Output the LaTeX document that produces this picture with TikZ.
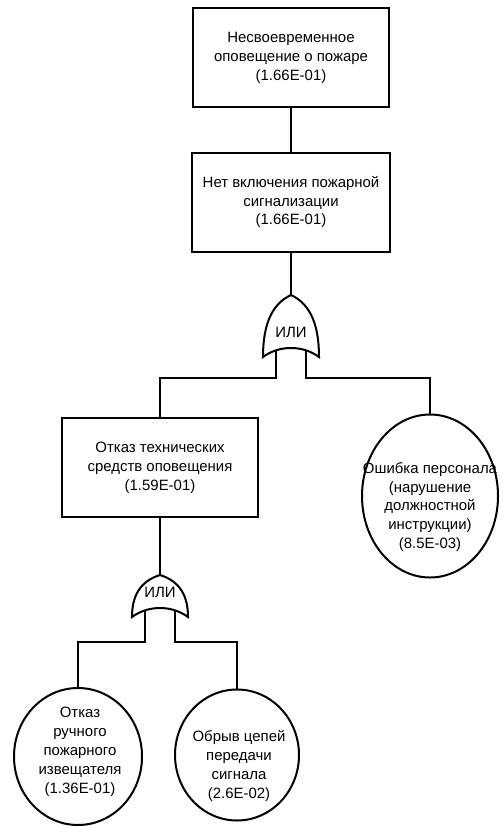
\documentclass[tikz,border=0pt]{standalone}
\usepackage{fontspec}
\setmainfont{Liberation Sans}
\usetikzlibrary{shapes.geometric}

\begin{document}
\begin{tikzpicture}[x=1bp, y=-1bp,
  every node/.style={font=\fontsize{15}{19}\selectfont},
  ev/.style={draw,rectangle,line width=2bp,minimum width=196bp,minimum height=99bp,inner sep=0pt,align=center},
  be/.style={draw,ellipse,line width=2bp,inner sep=0pt},
  txt/.style={align=center,inner sep=0pt},
  wire/.style={line width=2bp},
  pics/orgate/.style={code={
    \draw[wire] (0,0) .. controls (-20,0.15*#1) and (-28,0.5*#1) .. (-28,#1)
      .. controls (-12,#1-12) and (12,#1-12) .. (28,#1)
      .. controls (28,0.5*#1) and (20,0.15*#1) .. cycle;
    \node[txt] (-lbl) at (0,#1-25) {ИЛИ};
    \coordinate (-top) at (0,0);
    \coordinate (-inl) at (-15,#1-7);
    \coordinate (-inr) at (15,#1-7);
  }}]

  \useasboundingbox (0,0) rectangle (503,826);

  % Top event
  \node[ev] (late) at (291,57.5) {Несвоевременное\\оповещение о пожаре\\(1.66E-01)};
  \node[ev,minimum width=198bp] (nosig) at (291,202) {Нет включения пожарной\\сигнализации\\(1.66E-01)};

  % Gate 1
  \pic (g1) at (291,295) {orgate=62};
  \coordinate (bus1) at (0,378);

  % Level 2
  \node[ev] (tech) at (160,467.5) {Отказ технических\\средств оповещения\\(1.59E-01)};
  \node[be,minimum width=136bp,minimum height=163bp] (staff) at (430,496) {};
  \node[txt] (stafft) at (430,507) {Ошибка персонала\\(нарушение\\должностной\\инструкции)\\(8.5E-03)};

  % Gate 2
  \pic (g2) at (160,575) {orgate=42};
  \coordinate (bus2) at (0,642);

  % Basic events
  \node[be,minimum width=128bp,minimum height=137bp] (manual) at (78,756.5) {};
  \node[txt] (manualt) at (80,752) {Отказ\\ручного\\пожарного\\извещателя\\(1.36E-01)};
  \node[be,minimum width=124bp,minimum height=131bp] (wire) at (237,755) {};
  \node[txt] (wiret) at (239,766) {Обрыв цепей\\передачи\\сигнала\\(2.6E-02)};

  % Edges
  \draw[wire] (late.south) -- (nosig.north);
  \draw[wire] (nosig.south) -- (g1-top);
  \draw[wire] (g1-inl) -- (g1-inl |- bus1) -| (tech.north);
  \draw[wire] (g1-inr) -- (g1-inr |- bus1) -| (staff.north);
  \draw[wire] (tech.south) -- (g2-top);
  \draw[wire] (g2-inl) -- (g2-inl |- bus2) -| (manual.north);
  \draw[wire] (g2-inr) -- (g2-inr |- bus2) -| (wire.north);

\end{tikzpicture}
\end{document}
